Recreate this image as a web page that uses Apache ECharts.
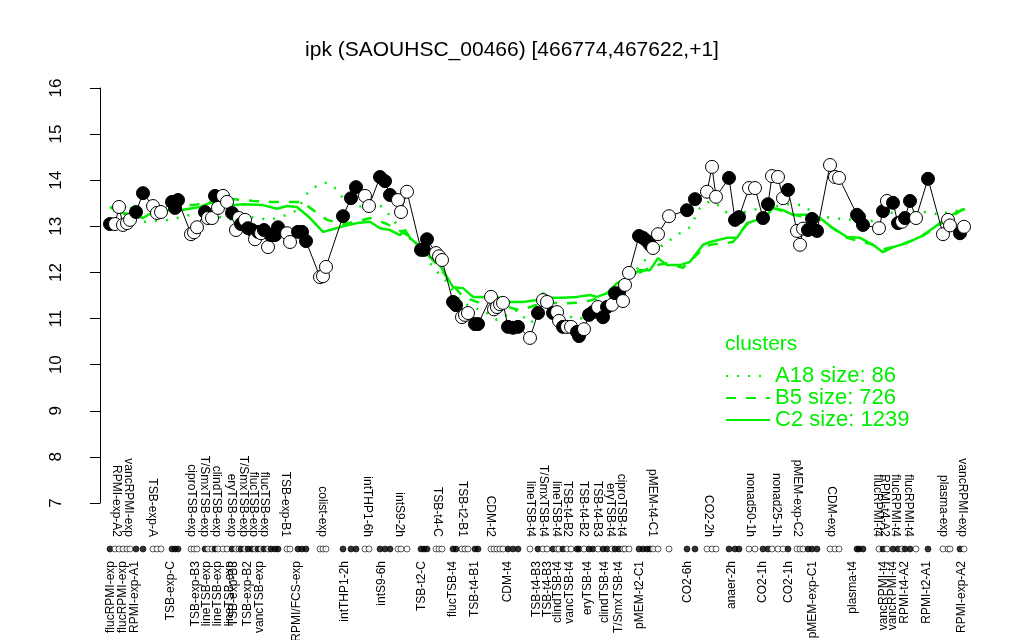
<!DOCTYPE html>
<html><head><meta charset="utf-8">
<script src="https://cdn.jsdelivr.net/npm/echarts@6/dist/echarts.min.js"></script>
<style>html,body{margin:0;padding:0;background:#fff}#c{width:1024px;height:640px}</style>
</head><body><div id="c"></div>
<script>
const chartTitle = 'ipk (SAOUHSC_00466) [466774,467622,+1]';
const yTicks = [7, 8, 9, 10, 11, 12, 13, 14, 15, 16];

// sample positions along the condition axis
const samplePos = [
  10,15,19,23,27,30,36,43,53,57,
  61,72,75,78,91,94,97,105,108,112,
  115,118,123,127,132,136,139,141,145,148,
  152,155,158,161,164,168,171,175,178,187,
  190,198,202,206,220,223,226,243,251,256,
  265,269,280,285,290,298,301,307,321,324,
  327,336,339,342,353,356,362,365,368,375,
  378,391,394,397,400,403,408,413,418,430,
  438,443,447,453,457,459,463,467,471,477,
  479,484,489,493,498,503,507,512,515,519,
  523,525,529,539,543,547,550,553,558,569,
  587,595,607,612,616,629,635,639,649,655,
  663,668,672,678,683,688,697,700,703,708,
  712,717,730,735,739,757,759,763,779,783,
  787,793,798,802,805,810,816,828,843,848,
  850,860,864
];
// expression values
const expr = [
  13.05,13.05,13.42,13.03,13.07,13.14,13.31,13.72,13.44,13.29,
  13.31,13.53,13.4,13.57,12.83,12.87,12.98,13.31,13.18,13.18,
  13.66,13.4,13.66,13.53,13.29,12.92,13.18,13.05,13.14,12.96,
  12.92,12.72,12.88,12.85,12.92,12.55,12.81,12.81,12.98,12.85,
  12.66,12.88,12.88,12.68,11.9,11.92,12.12,13.22,13.61,13.85,
  13.66,13.44,14.07,13.98,13.68,13.57,13.31,13.75,12.49,12.49,
  12.72,12.42,12.35,12.27,11.36,11.29,11.03,11.08,11.12,10.88,
  10.88,11.47,11.2,11.25,11.31,11.34,10.82,10.8,10.82,10.58,
  11.12,11.4,11.36,11.12,11.14,10.95,10.82,10.82,10.82,10.71,
  10.62,10.77,11.08,11.14,11.25,11.03,11.25,11.3,11.55,11.55,
  11.38,11.73,11.99,12.79,12.75,12.68,12.6,12.53,12.83,13.22,
  13.35,13.59,13.75,14.29,13.64,14.05,13.14,13.2,13.83,13.83,
  13.18,13.48,14.09,14.07,13.61,13.79,12.9,12.6,12.95,12.92,
  13.16,12.9,14.33,14.07,14.05,13.25,13.2,13.03,12.96,13.33,
  13.55,13.51,13.07,13.1,13.18,13.55,13.18,14.03,12.83,13.14,
  13.02,12.85,12.99
];
// 1 = filled marker, 0 = open marker
const filled = [
  1,0,0,0,0,0,1,1,0,0,
  0,1,1,1,0,0,0,1,0,0,
  1,0,0,0,1,0,0,1,0,1,
  1,0,1,0,1,0,1,1,1,0,
  0,1,1,1,0,0,0,1,1,1,
  0,0,1,1,1,0,0,0,1,1,
  1,0,0,0,1,1,0,0,0,1,
  1,0,0,0,0,0,1,1,1,0,
  1,0,0,1,0,0,1,0,0,1,
  1,0,1,1,0,1,1,0,1,1,
  0,0,0,1,1,1,1,0,0,0,
  1,1,0,0,0,1,1,1,0,0,
  1,1,0,0,0,1,0,0,0,1,
  1,1,0,0,0,1,1,1,0,1,
  0,1,1,0,1,1,0,1,0,0,
  0,1,0
];

// cluster profiles
const a18Pos = [13,45,70,90,107,127,150,170,187,197,208,218,227,237,243,257,270,278,287,293,300,313,327,333,340,347,357,370,383,397,417,430,447,463,477,490,497,507,520,530,543,563,580,590,600,610,623,630,650,667,687,703,717,733,753,770,787,807,827,840,853,865];
const a18Val = [13.35,13.1,13.14,13.25,13.31,13.14,13.2,13.14,13.25,13.35,13.74,13.9,13.95,13.8,13.61,13.42,13.46,13.5,13.31,13.14,12.96,12.66,12.33,12.1,11.95,11.8,11.47,11.25,11.18,10.97,11.18,10.9,11.18,11.12,10.97,11.08,11.18,11.29,11.62,11.9,12.23,12.6,12.85,12.98,13.4,13.55,13.4,13.2,13.35,13.4,13.48,13.46,13.22,13.18,13.14,13.1,13.29,13.31,13.31,13.25,13.35,13.3];
const b5Pos = [10,33,57,73,93,110,133,153,170,190,203,210,227,243,257,270,287,300,310,320,330,340,350,363,380,400,420,430,445,463,483,500,517,527,540,555,567,583,600,610,633,647,663,673,693,720,733,747,773,783,793,820,847,865];
const b5Val = [13.4,13.4,13.38,13.46,13.46,13.53,13.59,13.55,13.53,13.53,13.53,13.4,13.14,13.05,13.1,13.18,13.05,12.9,12.78,12.55,12.33,12.1,11.8,11.47,11.34,11.3,11.18,11.25,11.35,11.33,11.35,11.45,11.7,11.85,12.0,12.15,12.2,12.1,12.45,12.6,12.66,13.05,13.14,13.4,13.25,13.15,12.96,12.75,12.6,12.5,12.55,12.75,13.15,13.4];
const c2Pos = [10,23,33,43,53,67,80,100,110,123,133,143,163,177,187,197,210,223,230,243,257,270,280,290,300,305,310,320,330,340,347,353,363,373,387,400,410,423,437,443,450,463,477,490,497,507,517,527,540,550,558,567,580,590,603,610,627,637,647,657,663,673,683,693,707,720,733,747,760,773,783,793,807,820,833,847,857,865];
const c2Val = [13.42,13.29,13.25,13.18,13.31,13.35,13.35,13.42,13.51,13.51,13.46,13.48,13.46,13.38,13.44,13.42,13.18,12.88,12.92,13.0,13.07,13.1,12.96,12.92,12.81,12.92,12.75,12.55,12.33,12.16,11.9,11.68,11.66,11.47,11.47,11.45,11.36,11.36,11.4,11.55,11.45,11.45,11.47,11.51,11.47,11.55,11.77,11.88,12.05,12.05,12.31,12.16,12.16,12.23,12.6,12.66,12.75,12.75,13.07,13.14,13.14,13.4,13.35,13.25,13.25,13.18,12.96,12.77,12.75,12.6,12.44,12.55,12.64,12.77,12.96,13.18,13.31,13.38];

const clusterNames = ['A18 size: 86', 'B5 size: 726', 'C2 size: 1239'];

// condition labels (below and above the sample strip)
const bottomNames = ['flucRPMI-exp','flucRPMI-exp','RPMI-exp-A1','TSB-exp-C','TSB-exp-B3','lineTSB-exp','lineTSB-exp','lineTSB-exp','TSB-exp-B3','TSB-exp-B2','vancTSB-exp','RPMI/FCS-exp','intTHP1-2h','intS9-6h','TSB-t2-C','flucTSB-t4','TSB-t4-B1','CDM-t4','TSB-t4-B3','TSB-t4-B3','clindTSB-t4','vancTSB-t4','eryTSB-t4','clindTSB-t4','T/SmxTSB-t4','pMEM-t2-C1','CO2-6h','anaer-2h','CO2-1h','CO2-1h','pMEM-exp-C1','plasma-t4','vancRPMI-t4','vancRPMI-t4','RPMI-t4-A2','RPMI-t2-A1','RPMI-exp-A2'];
const bottomPos = [11,23,35,71,96,107,118,130,134,148,160,197,245,282,322,353,375,408,437,448,458,470,488,505,519,540,588,632,663,689,713,753,784,793,805,827,862];
const topNames = ['RPMI-exp-A2','vancRPMI-exp','TSB-exp-A','ciproTSB-exp','T/SmxTSB-exp','clindTSB-exp','eryTSB-exp','T/SmxTSB-exp','flucTSB-exp','flucTSB-exp','TSB-exp-B1','colist-exp','intTHP1-6h','intS9-2h','TSB-t4-C','TSB-t2-B1','CDM-t2','lineTSB-t4','T/SmxTSB-t4','lineTSB-t4','TSB-t4-B2','TSB-t4-B2','TSB-t4-B3','eryTSB-t4','ciproTSB-t4','pMEM-t4-C1','CO2-2h','nonad50-1h','nonad25-1h','pMEM-exp-C2','CDM-exp','flucRPMI-t4','RPMI-t4-A2','flucRPMI-t4','flucRPMI-t4','plasma-exp','vancRPMI-exp'];
const topPos = [16,28,52,91,104,116,131,143,153,164,185,222,267,299,337,362,390,430,443,456,467,483,497,510,521,552,608,650,676,697,731,777,784,795,808,843,862];

const GREEN = '#00ee00';
const FONT = 'Liberation Sans, Arial, Helvetica, sans-serif';
const X_MIN = -18, X_MAX = 896;

const pointData = samplePos.map((p, i) => ({
  value: [p, expr[i]],
  itemStyle: { color: filled[i] ? '#000' : '#fff', borderColor: '#000', borderWidth: 1 }
}));
const rugData = samplePos.map((p, i) => ({
  value: [p, 0],
  itemStyle: { color: filled[i] ? '#000' : '#fff', borderColor: '#000', borderWidth: 0.8 }
}));
const pairs = (xs, ys) => xs.map((x, i) => [x, ys[i]]);

// split each label row over two axes (alternate labels) so neighbours never suppress each other
const labelAxis = (pos, names, where, parity) => {
  const map = {};
  const vals = [];
  pos.forEach((p, i) => { if (i % 2 === parity) { map[String(p)] = names[i]; vals.push(p); } });
  return {
    gridIndex: 1, type: 'value', min: X_MIN, max: X_MAX, position: where,
    axisLine: { show: false }, axisTick: { show: false }, splitLine: { show: false },
    axisLabel: { customValues: vals, formatter: v => map[String(v)] || '',
      showMinLabel: true, showMaxLabel: true, hideOverlap: false,
      rotate: 90, fontSize: 12, color: '#000', margin: 4, fontFamily: FONT }
  };
};

const chart = echarts.init(document.getElementById('c'), null, { renderer: 'canvas' });
chart.setOption({
  animation: false,
  backgroundColor: '#fff',
  textStyle: { fontFamily: FONT },
  title: [
    { text: chartTitle, left: 'center', top: 35,
      textStyle: { fontSize: 21, fontWeight: 'normal', color: '#000', fontFamily: FONT } },
    { text: 'clusters', left: 720, top: 329,
      textStyle: { fontSize: 21, fontWeight: 'normal', color: GREEN, fontFamily: FONT } }
  ],
  legend: {
    data: clusterNames, orient: 'vertical', left: 720, top: 360,
    itemWidth: 44, itemHeight: 14, itemGap: 0,
    itemStyle: { opacity: 0 },
    textStyle: { color: GREEN, fontSize: 22, fontFamily: FONT }
  },
  grid: [
    { left: 82, width: 914, top: 88, height: 415, outerBoundsMode: 'none' },
    { left: 82, width: 914, top: 541, height: 16, outerBoundsMode: 'none' }
  ],
  xAxis: [
    { gridIndex: 0, type: 'value', min: X_MIN, max: X_MAX, show: false },
    labelAxis(bottomPos, bottomNames, 'bottom', 0),
    labelAxis(bottomPos, bottomNames, 'bottom', 1),
    labelAxis(topPos, topNames, 'top', 0),
    labelAxis(topPos, topNames, 'top', 1)
  ],
  yAxis: [
    { gridIndex: 0, type: 'value', min: 7, max: 16, interval: 1,
      axisLine: { show: true, lineStyle: { color: '#000', width: 1 } },
      axisTick: { show: true, length: 10, lineStyle: { color: '#000' } },
      splitLine: { show: false },
      axisLabel: { customValues: yTicks, rotate: 90, fontSize: 17, color: '#000', margin: 17, fontFamily: FONT } },
    { gridIndex: 1, type: 'value', min: -1, max: 1, show: false }
  ],
  series: [
    { name: clusterNames[0], type: 'line', xAxisIndex: 0, yAxisIndex: 0, data: pairs(a18Pos, a18Val),
      symbol: 'none', z: 2, lineStyle: { color: GREEN, width: 2.5, type: [2, 9] }, itemStyle: { color: GREEN } },
    { name: clusterNames[1], type: 'line', xAxisIndex: 0, yAxisIndex: 0, data: pairs(b5Pos, b5Val),
      symbol: 'none', z: 2, lineStyle: { color: GREEN, width: 2.5, type: [10, 10] }, itemStyle: { color: GREEN } },
    { name: clusterNames[2], type: 'line', xAxisIndex: 0, yAxisIndex: 0, data: pairs(c2Pos, c2Val),
      symbol: 'none', z: 2, lineStyle: { color: GREEN, width: 2.5 }, itemStyle: { color: GREEN } },
    { name: 'samples', type: 'line', xAxisIndex: 0, yAxisIndex: 0, data: pointData,
      symbol: 'circle', symbolSize: 13, showAllSymbol: true, z: 3,
      lineStyle: { color: '#000', width: 1 } },
    { name: 'strip', type: 'scatter', xAxisIndex: 1, yAxisIndex: 1, data: rugData,
      symbol: 'circle', symbolSize: 6, z: 3 }
  ]
});
</script>
</body></html>
